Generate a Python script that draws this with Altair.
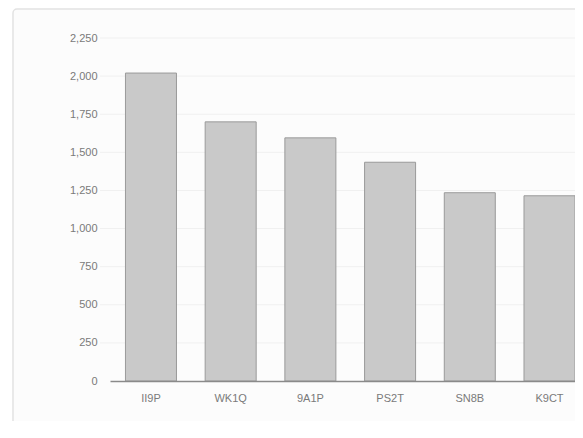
import altair as alt
import pandas as pd

callsigns = ["II9P", "WK1Q", "9A1P", "PS2T", "SN8B", "K9CT"]
qsos = [2020, 1700, 1595, 1435, 1235, 1215]
y_ticks = [0, 250, 500, 750, 1000, 1250, 1500, 1750, 2000, 2250]

df = pd.DataFrame({"call": callsigns, "qsos": qsos})
grid_df = pd.DataFrame({"tick": y_ticks[1:]})

W, H = 465, 343

frame = alt.Chart(pd.DataFrame({"a": [0]})).mark_rect(
    fill="#fcfcfc", stroke="#e2e2e2", strokeWidth=1.5, cornerRadius=4, clip=False
).encode(
    x=alt.value(-97), x2=alt.value(480), y=alt.value(-29), y2=alt.value(395)
)

yscale = alt.Scale(domain=[0, 2250], nice=False)
yaxis = alt.Axis(values=y_ticks, labelExpr="format(datum.value, ',')",
                 ticks=False, domain=False,
                 grid=False, labelPadding=13, labelFontSize=11,
                 labelColor="#7a7a7a", labelFont="Liberation Sans", zindex=1)

grid = alt.Chart(grid_df).mark_rule(color="#f0f0f0", strokeWidth=1).encode(
    y=alt.Y("tick:Q", scale=yscale, axis=yaxis, title=None),
    x=alt.value(-10), x2=alt.value(W + 20),
)

bars = alt.Chart(df).mark_bar(
    fill="#c9c9c9", stroke="#9a9a9a", strokeWidth=1
).encode(
    x=alt.X("call:N", sort=callsigns, title=None,
            scale=alt.Scale(paddingInner=0.36, paddingOuter=0.097, align=1),
            axis=alt.Axis(labelAngle=0, ticks=False, domainColor="#8a8a8a",
                          domainWidth=1.5, labelPadding=11, labelFontSize=11,
                          labelColor="#7a7a7a", labelFont="Liberation Sans",
                          zindex=1)),
    y=alt.Y("qsos:Q", title=None, scale=yscale, axis=yaxis),
)

chart = alt.layer(frame, grid, bars).properties(
    width=W, height=H,
    autosize=alt.AutoSizeParams(type="none"),
    padding={"left": 102, "top": 30, "right": 0, "bottom": 40},
    background="white",
).configure_view(stroke=None)

chart.save("out.html", embed_options={"renderer": "svg", "actions": False})
